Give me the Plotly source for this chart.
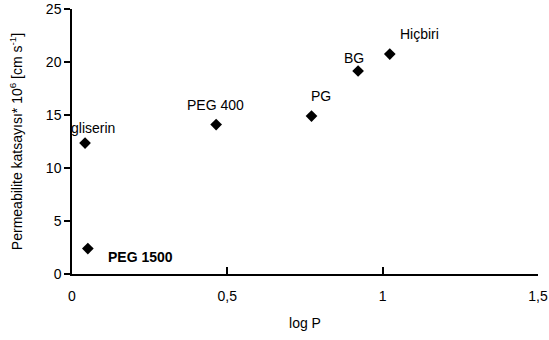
import plotly.graph_objects as go

labels = ["gliserin", "PEG 1500", "PEG 400", "PG", "BG", "Hiçbiri"]
log_p = [0.042, 0.051, 0.464, 0.771, 0.921, 1.023]
perm = [12.35, 2.4, 14.1, 14.9, 19.15, 20.75]

x_tickvals = [0, 0.5, 1, 1.5]
x_ticktext = ["0", "0,5", "1", "1,5"]
y_tickvals = [0, 5, 10, 15, 20, 25]

# label offsets (pixels) relative to each point
shifts = [(8, 15), (53, -8), (-1, 20), (9, 20), (-4, 13), (30, 20)]

fig = go.Figure()
fig.add_trace(go.Scatter(
    x=log_p, y=perm, mode="markers",
    marker=dict(symbol="diamond", size=9, color="black"),
    showlegend=False, hoverinfo="skip",
))

for lab, xv, yv, (dx, dy) in zip(labels, log_p, perm, shifts):
    txt = "<b>" + lab + "</b>" if lab == "PEG 1500" else lab
    fig.add_annotation(x=xv, y=yv, text=txt, showarrow=False,
                       xshift=dx, yshift=dy,
                       font=dict(size=14, color="black", family="Liberation Sans, Arial"))

fig.update_layout(
    width=549, height=340,
    margin=dict(l=72, r=11, t=9, b=66, autoexpand=False),
    plot_bgcolor="white", paper_bgcolor="white",
    font=dict(family="Liberation Sans, Arial", size=14, color="black"),
    xaxis=dict(
        range=[0, 1.5001], tickvals=x_tickvals, ticktext=x_ticktext,
        showgrid=False, zeroline=False, showline=True, linecolor="black", linewidth=1.5,
        ticks="inside", ticklen=7, tickcolor="black", tickwidth=1.5,
        ticklabeloverflow="allow", ticklabelstandoff=8, automargin=False,
        title=dict(text="log P", font=dict(size=14), standoff=16),
    ),
    yaxis=dict(
        range=[0, 25], tickvals=y_tickvals,
        showgrid=False, zeroline=False, showline=True, linecolor="black", linewidth=1.5,
        ticks="outside", ticklen=6, tickcolor="black", tickwidth=1.5, automargin=False,
        title=dict(text="Permeabilite katsayısı* 10<sup>6</sup> [cm s<sup>-1</sup>]",
                   font=dict(size=14), standoff=20),
    ),
)

fig.write_html("out.html")
